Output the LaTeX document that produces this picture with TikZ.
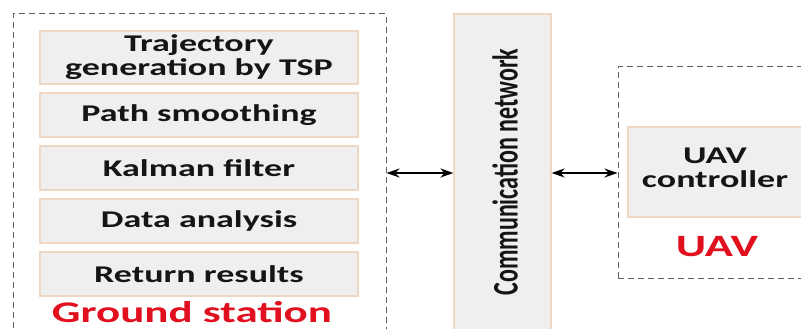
\documentclass[tikz,border=0pt]{standalone}
\usepackage{fontspec}
\setmainfont[FakeStretch=1.5]{Carlito}
\newfontfamily\cnfont{Carlito}
\usetikzlibrary{arrows.meta}
\definecolor{boxfill}{HTML}{EFEFEF}
\definecolor{boxline}{HTML}{EED8C4}
\definecolor{dashline}{HTML}{606060}
\definecolor{txt}{HTML}{151515}
\definecolor{redtxt}{HTML}{E0101E}
\tikzset{
  group/.style={draw=dashline, line width=1pt, dash pattern=on 6pt off 4pt, rectangle, inner sep=0pt},
  stepbox/.style={draw=boxline, fill=boxfill, line width=1.2pt, rectangle, inner sep=0pt, text=txt,
    font=\fontsize{24}{24}\selectfont\bfseries, align=center},
  redlabel/.style={text=redtxt, font=\bfseries, inner sep=0pt},
  arr/.style={{Stealth[length=13pt,width=9pt]}-{Stealth[length=13pt,width=9pt]}, line width=2pt, black}
}
\begin{document}
\begin{tikzpicture}[x=1pt,y=-1pt]
\useasboundingbox (0,0) rectangle (801,329);
\clip (0,0) rectangle (801,329);
\fill[white] (0,0) rectangle (801,329);
% ground station
\node[group, minimum width=373pt, minimum height=326pt] (gs) at (199.5,177) {};
\node[stepbox, minimum width=318pt, minimum height=53pt] (b1) at (199,57.5) {Trajectory\\generation by TSP};
\node[stepbox, minimum width=318pt, minimum height=44pt] (b2) at (199,115) {Path smoothing};
\node[stepbox, minimum width=318pt, minimum height=44pt] (b3) at (199,168) {Kalman filter};
\node[stepbox, minimum width=318pt, minimum height=44pt] (b4) at (199,221) {Data analysis};
\node[stepbox, minimum width=318pt, minimum height=44pt] (b5) at (199,274) {Return results};
\node[redlabel, font=\fontsize{30}{30}\selectfont\bfseries] (gsl) at (192,312.5) {Ground station};
% communication network
\node[stepbox, minimum width=97pt, minimum height=326pt] (cn) at (502.5,177) {};
\node[text=txt, inner sep=0pt] (cnt) at (505,172)
  {\scalebox{1.5}[1]{\rotatebox{90}{\cnfont\fontsize{24}{24}\selectfont\bfseries Communication network}}};
% UAV
\node[group, minimum width=192pt, minimum height=211pt] (uav) at (714,172.5) {};
\node[stepbox, minimum width=182pt, minimum height=90pt] (uc) at (719,172) {};
\node[text=txt, align=center, inner sep=0pt, font=\fontsize{24}{24}\selectfont\bfseries] (uct) at (715,168) {UAV\\controller};
\node[redlabel, font=\fontsize{31}{31}\selectfont\bfseries] (uavl) at (717,247) {UAV};
% arrows
\coordinate (ay) at (0,173);
\draw[arr] (gs.east |- ay) -- (cn.west |- ay);
\draw[arr] (cn.east |- ay) -- (uav.west |- ay);
\end{tikzpicture}
\end{document}
